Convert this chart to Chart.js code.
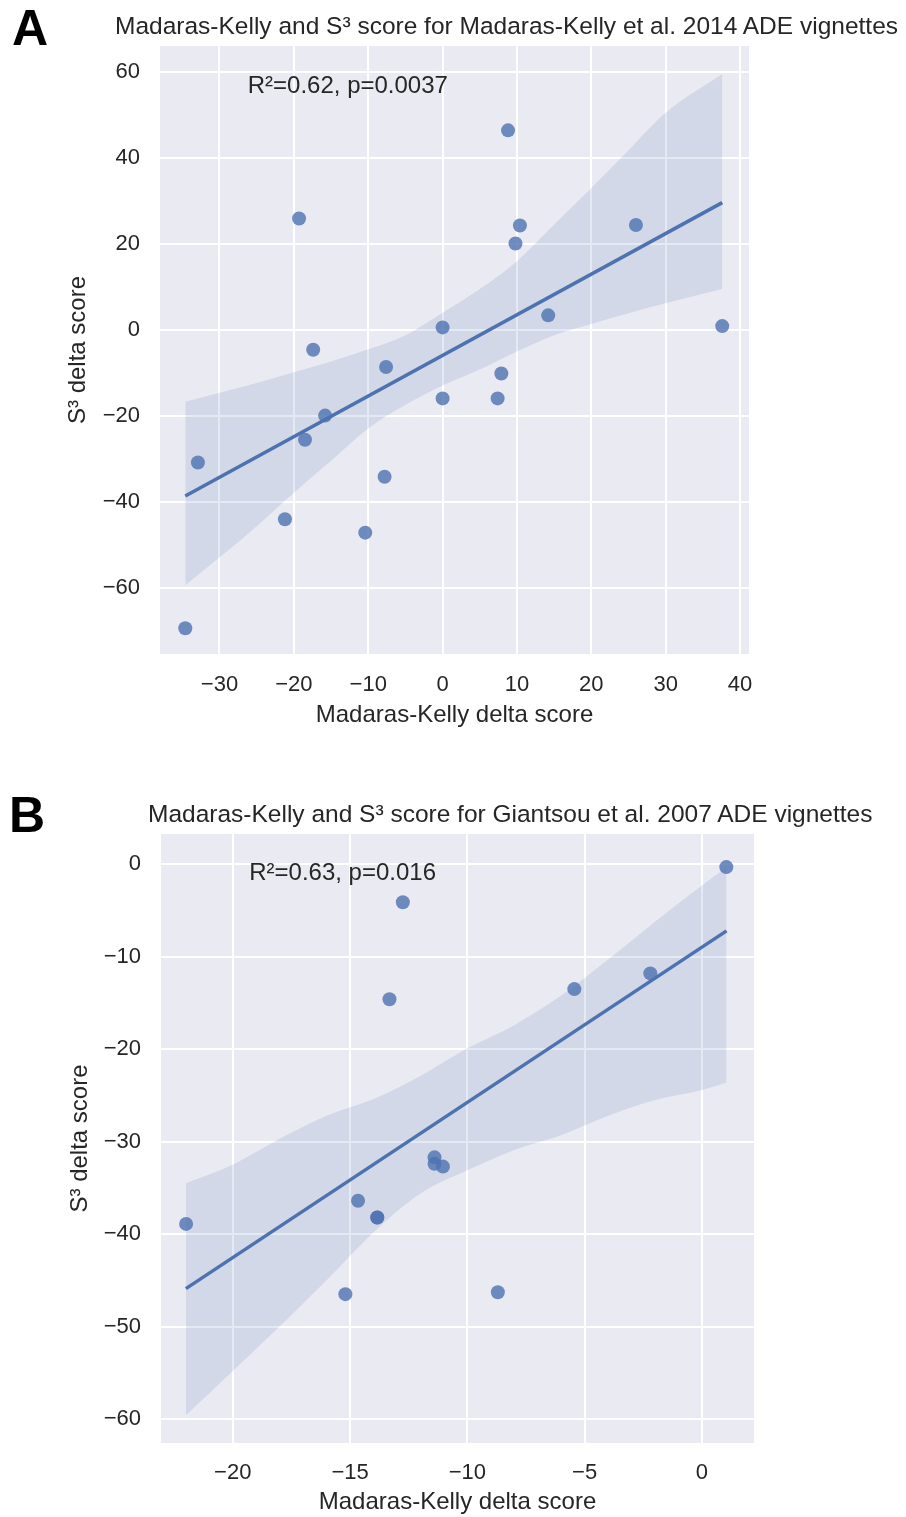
<!DOCTYPE html>
<html>
<head>
<meta charset="utf-8">
<script src="https://cdn.jsdelivr.net/npm/chart.js@4.4.1/dist/chart.umd.min.js"></script>
<style>
  body { margin: 0; background: #fff; font-family: "Liberation Sans", Arial, sans-serif; }
  #page { position: relative; width: 906px; height: 1517px; overflow: hidden; }
  .panel { position: absolute; font-weight: bold; font-size: 50px; line-height: 50px; color: #000; }
  .title { position: absolute; font-size: 24.5px; line-height: 26px; white-space: nowrap; color: #262626; }
  canvas { position: absolute; left: 0; }
</style>
</head>
<body>
<div id="page">
  <canvas id="chartA" width="906" height="760" style="top:0"></canvas>
  <canvas id="chartB" width="906" height="737" style="top:780px"></canvas>
  <div class="panel" style="left:12px;top:3px">A</div>
  <div class="title" style="left:115px;top:13px">Madaras-Kelly and S³ score for Madaras-Kelly et al. 2014 ADE vignettes</div>
  <div class="panel" style="left:9px;top:790px">B</div>
  <div class="title" style="left:148px;top:801px">Madaras-Kelly and S³ score for Giantsou et al. 2007 ADE vignettes</div>
</div>
<script>
// panel A: Madaras-Kelly et al. 2014
const mkA = [-34.6, -32.9, -21.2, -19.3, -18.5, -17.4, -15.8, -10.4, -7.8, -7.6, 0.0, 0.0, 7.4, 7.9, 8.8, 9.8, 10.4, 14.2, 26.0, 37.6];
const s3A = [-69.3, -30.8, -44.0, 25.9, -25.5, -4.6, -19.9, -47.1, -34.1, -8.6, 0.6, -15.9, -15.9, -10.1, 46.4, 20.1, 24.3, 3.4, 24.4, 0.9];
const fitXA = [-34.6, 37.6];
const fitYA = [-38.6, 29.6];
const bandXA = [-34.6, -30, -25, -20, -15, -10, -5, 0, 5, 10, 15, 20, 25, 30, 37.6];
const bandUpperA = [-16.7, -14.6, -12.3, -9.8, -7.3, -4.5, -1.2, 4.0, 9.5, 16.0, 24.5, 33.0, 41.8, 50.5, 59.5];
const bandLowerA = [-59.3, -52.9, -45.6, -37.8, -30.4, -22.9, -17.4, -12.9, -9.2, -5.0, -1.2, 1.4, 3.9, 6.2, 9.5];
const xTicksA = [-30, -20, -10, 0, 10, 20, 30, 40];
const yTicksA = [-60, -40, -20, 0, 20, 40, 60];

// panel B: Giantsou et al. 2007
const mkB = [-21.99, -15.2, -14.66, -13.84, -13.84, -13.32, -12.75, -11.4, -11.4, -11.04, -8.7, -5.44, -2.2, 1.04];
const s3B = [-38.9, -46.5, -36.4, -38.2, -38.2, -14.6, -4.1, -31.7, -32.4, -32.7, -46.3, -13.5, -11.8, -0.3];
const fitXB = [-22.0, 1.05];
const fitYB = [-45.9, -7.2];
const bandXB = [-22, -20, -18, -16, -14, -12, -10, -8, -6, -4, -2, 0, 1.05];
const bandUpperB = [-34.5, -32.5, -29.7, -27.2, -25.4, -22.9, -19.9, -17.4, -14.2, -10.3, -6.2, -2.3, -0.3];
const bandLowerB = [-59.6, -54.8, -50.0, -45.0, -39.8, -35.6, -33.1, -30.9, -29.3, -27.2, -25.5, -24.4, -23.6];
const xTicksB = [-20, -15, -10, -5, 0];
const yTicksB = [-60, -50, -40, -30, -20, -10, 0];

const BLUE = '#4C72B0';
const FONT = '"Liberation Sans", Arial, sans-serif';
const TEXT = '#262626';

const toPts = (xs, ys) => xs.map((x, i) => ({ x: x, y: ys[i] }));
const minus = v => (v < 0 ? '\u2212' + Math.abs(v) : String(v));

// grey plot background like seaborn darkgrid
const plotBg = {
  id: 'plotBg',
  beforeDraw(chart) {
    const { ctx, chartArea: a } = chart;
    ctx.save();
    ctx.fillStyle = '#EAEAF2';
    ctx.fillRect(a.left, a.top, a.width, a.height);
    ctx.restore();
  }
};

function buildChart(id, o) {
  const note = {
    id: 'note',
    afterDatasetsDraw(chart) {
      const { ctx, scales } = chart;
      ctx.save();
      ctx.font = '24px ' + FONT;
      ctx.fillStyle = TEXT;
      ctx.textBaseline = 'middle';
      ctx.fillText(o.note, scales.x.getPixelForValue(o.noteX), scales.y.getPixelForValue(o.noteY));
      ctx.restore();
    }
  };

  return new Chart(document.getElementById(id), {
    type: 'scatter',
    data: {
      datasets: [
        {
          data: toPts(o.x, o.y),
          backgroundColor: 'rgba(76,114,176,0.8)',
          borderColor: 'rgba(0,0,0,0)',
          borderWidth: 0,
          pointRadius: 7,
          pointHoverRadius: 7
        },
        {
          type: 'line',
          data: toPts(o.fitX, o.fitY),
          borderColor: BLUE,
          borderWidth: 3.5,
          pointRadius: 0,
          fill: false
        },
        {
          type: 'line',
          data: toPts(o.bandX, o.bandUpper),
          borderColor: 'rgba(0,0,0,0)',
          backgroundColor: 'rgba(76,114,176,0.15)',
          pointRadius: 0,
          cubicInterpolationMode: 'monotone',
          fill: '+1'
        },
        {
          type: 'line',
          data: toPts(o.bandX, o.bandLower),
          borderColor: 'rgba(0,0,0,0)',
          pointRadius: 0,
          cubicInterpolationMode: 'monotone',
          fill: false
        }
      ]
    },
    options: {
      responsive: false,
      animation: false,
      devicePixelRatio: 1,
      layout: { padding: o.padding },
      plugins: { legend: { display: false }, tooltip: { enabled: false } },
      scales: {
        x: {
          type: 'linear',
          min: o.xMin,
          max: o.xMax,
          afterBuildTicks: s => { s.ticks = o.xTicks.map(v => ({ value: v })); },
          afterFit: s => { s.height = o.xAxisH; },
          grid: { color: '#fff', lineWidth: 2, drawTicks: false },
          border: { display: false },
          ticks: { padding: o.xTickPad, color: TEXT, font: { family: FONT, size: 22 }, callback: minus },
          title: {
            display: true,
            text: 'Madaras-Kelly delta score',
            color: TEXT,
            font: { family: FONT, size: 24 },
            padding: { top: 0, bottom: o.xTitlePad }
          }
        },
        y: {
          type: 'linear',
          min: o.yMin,
          max: o.yMax,
          afterBuildTicks: s => { s.ticks = o.yTicks.map(v => ({ value: v })); },
          afterFit: s => { s.width = o.yAxisW; },
          grid: { color: '#fff', lineWidth: 2, drawTicks: false },
          border: { display: false },
          ticks: { padding: 20, color: TEXT, font: { family: FONT, size: 22 }, callback: minus },
          title: {
            display: true,
            text: 'S³ delta score',
            color: TEXT,
            font: { family: FONT, size: 24 },
            padding: { top: o.yTitlePad, bottom: 0 }
          }
        }
      }
    },
    plugins: [plotBg, note]
  });
}

buildChart('chartA', {
  x: mkA, y: s3A, fitX: fitXA, fitY: fitYA,
  bandX: bandXA, bandUpper: bandUpperA, bandLower: bandLowerA,
  xTicks: xTicksA, yTicks: yTicksA,
  xMin: -38.0, xMax: 41.2, yMin: -75.3, yMax: 66.0,
  padding: { left: 0, right: 157, top: 46, bottom: 0 },
  yAxisW: 160, xAxisH: 106, xTickPad: 18, xTitlePad: 30, yTitlePad: 64,
  note: 'R²=0.62, p=0.0037', noteX: -26.2, noteY: 56.6
});

buildChart('chartB', {
  x: mkB, y: s3B, fitX: fitXB, fitY: fitYB,
  bandX: bandXB, bandUpper: bandUpperB, bandLower: bandLowerB,
  xTicks: xTicksB, yTicks: yTicksB,
  xMin: -23.06, xMax: 2.22, yMin: -62.6, yMax: 3.28,
  padding: { left: 0, right: 152, top: 54, bottom: 0 },
  yAxisW: 161, xAxisH: 74, xTickPad: 17, xTitlePad: 0, yTitlePad: 66,
  note: 'R²=0.63, p=0.016', noteX: -19.3, noteY: -1.0
});
</script>
</body>
</html>
